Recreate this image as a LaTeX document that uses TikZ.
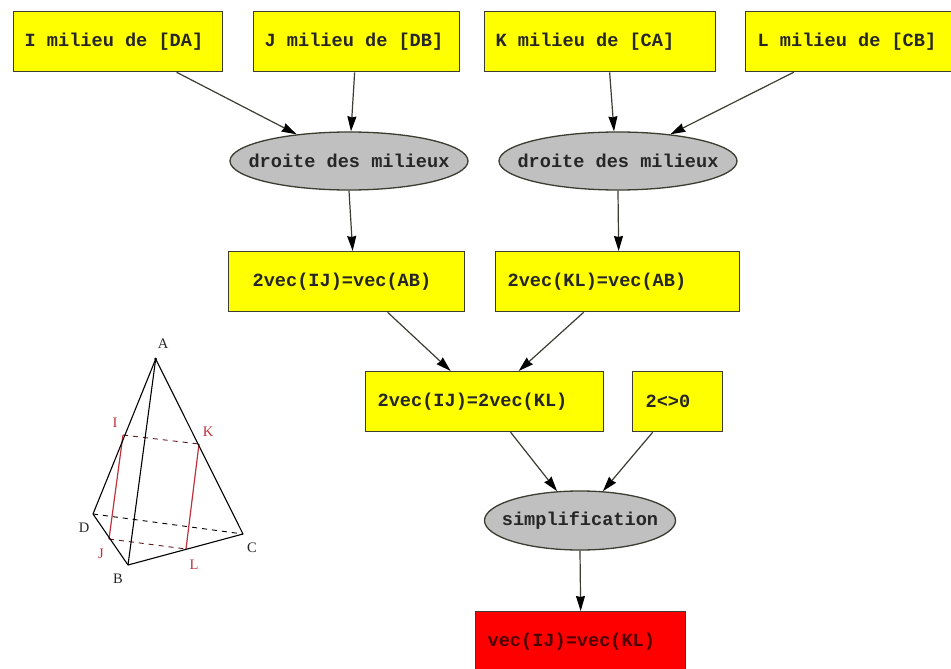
\documentclass[tikz,border=0pt]{standalone}
\usepackage{fontspec}
\setmainfont{Liberation Serif}
\setmonofont[WordSpace={1,0,0}]{Liberation Mono}
\usetikzlibrary{arrows.meta,shapes.geometric}
\definecolor{boxyellow}{RGB}{255,255,0}
\definecolor{ellgray}{RGB}{192,192,192}
\definecolor{boxred}{RGB}{255,0,0}
\definecolor{edgecol}{RGB}{60,60,50}
\definecolor{figred}{RGB}{190,50,60}
\newcommand{\nolabelwidth}[1]{\makebox[0pt]{#1}}
\tikzset{
  boxbase/.style={rectangle,draw=edgecol,line width=1.3pt,anchor=north west,inner ysep=0pt,inner xsep=0pt,
    font=\ttfamily\bfseries\fontsize{18.6}{20}\selectfont,text=black!85,align=flush left,minimum height=60pt},
  ybox/.style={boxbase,fill=boxyellow},
  rbox/.style={boxbase,fill=boxred,text=black!70!red},
  oval/.style={ellipse,draw=edgecol,line width=1.3pt,fill=ellgray,inner sep=0pt,
    font=\ttfamily\bfseries\fontsize{18.6}{20}\selectfont,text=black!85},
  link/.style={draw=edgecol,line width=1.2pt,-{Stealth[length=15pt,width=9pt,inset=1pt,color=black]}},
  solidedge/.style={black,line width=1.1pt},
  rededge/.style={figred,line width=1.2pt},
  hidden/.style={black,line width=0.9pt,dash pattern=on 5pt off 5pt},
  hiddenred/.style={black!50!figred,line width=0.9pt,dash pattern=on 5pt off 5pt},
  lab/.style={font=\fontsize{14.5}{16}\selectfont,text=black!85,inner sep=0pt},
  redlab/.style={lab,text=figred}
}
\begin{document}
\begin{tikzpicture}[x=1pt,y=-1pt]
\useasboundingbox (0,0) rectangle (951,669);
\fill[white] (0,0) rectangle (951,669);
\node[ybox,minimum width=209pt,text width=187pt] (I) at (13,11) {I milieu de [DA]};
\node[ybox,minimum width=206pt,text width=184pt] (J) at (253,11) {J milieu de [DB]};
\node[ybox,minimum width=231pt,text width=209pt] (K) at (484,11) {K milieu de [CA]};
\node[ybox,minimum width=206pt,text width=182pt] (L) at (745,11) {L milieu de [CB]};
\node[oval,minimum width=238pt,minimum height=58pt] (E1) at (349,161) {\nolabelwidth{droite des milieux}};
\node[oval,minimum width=238pt,minimum height=58pt] (E2) at (618,161) {\nolabelwidth{droite des milieux}};
\node[ybox,minimum width=236pt,text width=188pt] (N1) at (228,251) {2vec(IJ)=vec(AB)};
\node[ybox,minimum width=244pt,text width=220pt] (N2) at (495,251) {2vec(KL)=vec(AB)};
\node[ybox,minimum width=238pt,text width=214pt] (N3) at (365,371) {2vec(IJ)=2vec(KL)};
\node[ybox,minimum width=90pt,text width=64pt] (N4) at (632,371) {2<>0};
\node[oval,minimum width=191pt,minimum height=59pt] (E3) at (580,520.5) {\nolabelwidth{simplification}};
\node[rbox,minimum width=210pt,text width=186pt] (R) at (475,611) {vec(IJ)=vec(KL)};
% connectors
\draw[link] ([xshift=58.5pt]I.south) -- (E1.153);
\draw[link] ([xshift=-2pt]J.south) -- ([xshift=2pt]E1.north);
\draw[link] ([xshift=9.5pt]K.south) -- ([xshift=-4pt]E2.north);
\draw[link] ([xshift=-55pt]L.south) -- (E2.27);
\draw[link] (E1.south) -- ([xshift=6pt]N1.north);
\draw[link] (E2.south) -- ([xshift=1pt]N2.north);
\draw[link] ([xshift=41pt]N1.south) -- ([xshift=-34pt]N3.north);
\draw[link] ([xshift=-34pt]N2.south) -- ([xshift=34pt]N3.north);
\draw[link] ([xshift=26pt]N3.south) -- (E3.128);
\draw[link] ([xshift=-25pt]N4.south) -- (E3.52);
\draw[link] (E3.south) -- (R.north);
% tetrahedron
\coordinate (pA) at (155.7,359);
\coordinate (pB) at (128,565);
\coordinate (pC) at (243,534);
\coordinate (pD) at (93,514);
\coordinate (pI) at (123,435);
\coordinate (pJ) at (109,539);
\coordinate (pK) at (199,444);
\coordinate (pL) at (186,549);
\draw[hidden] (pD) -- (pC);
\draw[hiddenred] (pI) -- (pK);
\draw[hiddenred] (pJ) -- (pL);
\draw[rededge] (pI) -- (pJ);
\draw[rededge] (pK) -- (pL);
\draw[solidedge,line join=round] (pD) -- (pA) -- (pC) -- (pB) -- cycle;
\draw[solidedge] (pA) -- (pB);
\fill[black] (pA) circle (1.5pt);
\node[lab] (tA) at (163,344) {A};
\node[lab] (tB) at (118,579) {B};
\node[lab] (tC) at (252,548) {C};
\node[lab] (tD) at (84,528) {D};
\node[redlab] (tI) at (115,423) {I};
\node[redlab] (tJ) at (101,554) {J};
\node[redlab] (tK) at (208,432) {K};
\node[redlab] (tL) at (194,565) {L};
\end{tikzpicture}
\end{document}
